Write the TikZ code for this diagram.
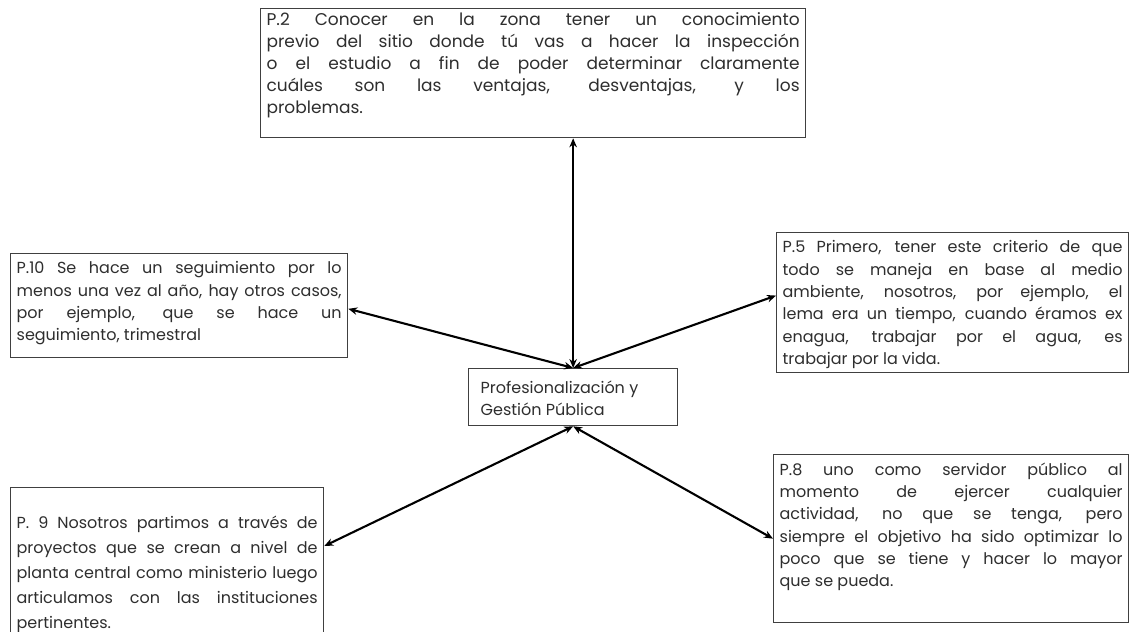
\documentclass[tikz,border=0pt]{standalone}
\usepackage{fontspec}
\usepackage{graphicx}
\setmainfont{Poppins}
\usetikzlibrary{arrows.meta,calc}
\newcommand\jl[1]{\sbox0{#1}\ifdim\wd0>\linewidth\resizebox{\linewidth}{\ht0}{#1}\else\makebox[\linewidth][s]{#1}\fi}
\newcommand\txtbox[3]{\begin{minipage}[t][#2][t]{#1}#3\end{minipage}}
\tikzset{
  tbox/.style={draw=black!75, line width=1.3pt, inner xsep=6pt, inner ysep=8pt,
    anchor=north west, text=black!82, font=\fontsize{16}{22.3}\selectfont},
  link/.style={{Stealth[length=9pt,width=7.5pt]}-{Stealth[length=9pt,width=7.5pt]}, line width=2.1pt, black}
}
\begin{document}
\begin{tikzpicture}[x=1pt,y=-1pt]
\useasboundingbox[fill=white] (0,0) rectangle (1133,632);

\node[tbox, inner ysep=4pt, font=\fontsize{17}{22}\selectfont] (p2) at (260,8) {\txtbox{533pt}{121pt}{%
\jl{P.2 Conocer en la zona tener un conocimiento}\\
\jl{previo del sitio donde tú vas a hacer la inspección}\\
\jl{o el estudio a fin de poder determinar claramente}\\
\jl{cuáles son las ventajas, desventajas, y los}\\
problemas.}};

\node[tbox] (p10) at (10,253) {\txtbox{325pt}{88pt}{%
\jl{P.10 Se hace un seguimiento por lo}\\
\jl{menos una vez al año, hay otros casos,}\\
\jl{por ejemplo, que se hace un}\\
seguimiento, trimestral}};

\node[tbox] (p5) at (776,232) {\txtbox{340pt}{124pt}{%
\jl{P.5 Primero, tener este criterio de que}\\
\jl{todo se maneja en base al medio}\\
\jl{ambiente, nosotros, por ejemplo, el}\\
\jl{lema era un tiempo, cuando éramos ex}\\
\jl{enagua, trabajar por el agua, es}\\
trabajar por la vida.}};

\node[tbox, font=\fontsize{16}{25}\selectfont] (p9) at (10,487) {\txtbox{301pt}{134pt}{%
\vspace*{20pt}%
\jl{P. 9 Nosotros partimos a través de}\\
\jl{proyectos que se crean a nivel de}\\
\jl{planta central como ministerio luego}\\
\jl{articulamos con las instituciones}\\
pertinentes.}};

\node[tbox] (p8) at (773,454) {\txtbox{343pt}{152pt}{%
\jl{P.8 uno como servidor público al}\\
\jl{momento de ejercer cualquier}\\
\jl{actividad, no que se tenga, pero}\\
\jl{siempre el objetivo ha sido optimizar lo}\\
\jl{poco que se tiene y hacer lo mayor}\\
que se pueda.}};

\node[tbox, inner xsep=12pt, inner ysep=6pt, font=\fontsize{16}{22}\selectfont] (c) at (468,368) {\txtbox{185pt}{45pt}{%
\vspace*{6pt}%
Profesionalización y\\
Gestión Pública}};

\draw[link] (c.north) -- (p2.south -| c.north);
\draw[link] (c.north) -- ($(p10.north east)!0.53!(p10.south east)$);
\draw[link] (c.north) -- ($(p5.north west)!0.45!(p5.south west)$);
\draw[link] (c.south) -- ($(p9.north east)!0.39!(p9.south east)$);
\draw[link] (c.south) -- ($(p8.north west)!0.5!(p8.south west)$);
\end{tikzpicture}
\end{document}
